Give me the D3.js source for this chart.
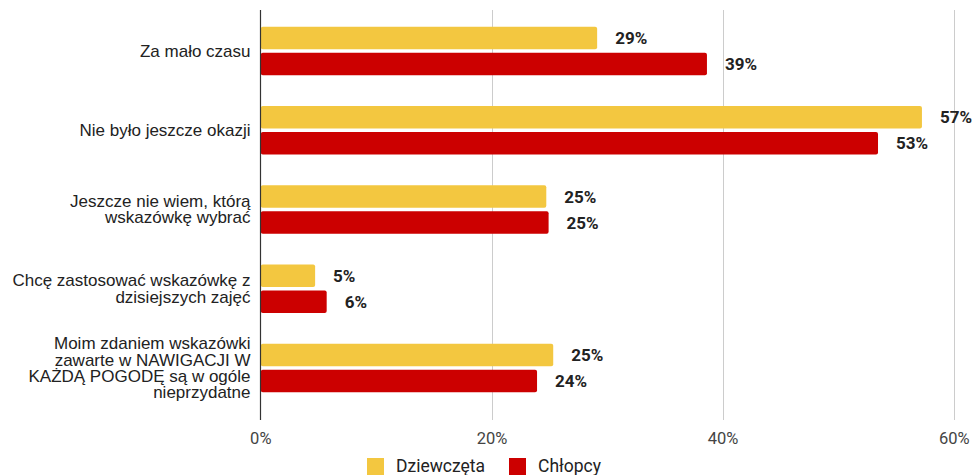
<!DOCTYPE html>
<html>
<head>
<meta charset="utf-8">
<script src="https://cdn.jsdelivr.net/npm/d3@7"></script>
<style>
  html, body { margin: 0; padding: 0; background: #fff; }
  svg { display: block; }
</style>
</head>
<body>
<svg id="chart" width="975" height="475"></svg>
<script>
const categories = [
  "Za mało czasu",
  "Nie było jeszcze okazji",
  "Jeszcze nie wiem, którą wskazówkę wybrać",
  "Chcę zastosować wskazówkę z dzisiejszych zajęć",
  "Moim zdaniem wskazówki zawarte w NAWIGACJI W KAŻDĄ POGODĘ są w ogóle nieprzydatne"
];
const categoryLines = [
  ["Za mało czasu"],
  ["Nie było jeszcze okazji"],
  ["Jeszcze nie wiem, którą", "wskazówkę wybrać"],
  ["Chcę zastosować wskazówkę z", "dzisiejszych zajęć"],
  ["Moim zdaniem wskazówki", "zawarte w NAWIGACJI W", "KAŻDĄ POGODĘ są w ogóle", "nieprzydatne"]
];
const seriesNames = ["Dziewczęta", "Chłopcy"];
const dziewczeta = [29.1, 57.2, 24.7, 4.7, 25.3];
const chlopcy = [38.6, 53.4, 24.9, 5.7, 23.9];
const tickValues = [0, 20, 40, 60];
const colors = ["#F3C740", "#CC0000"];

const svg = d3.select("#chart");
const x = d3.scaleLinear().domain([0, 60]).range([260.8, 954.3]);
const y = d3.scaleBand().domain(categories).range([11.4, 407.6])
  .paddingInner(0.387).paddingOuter(0.1935);
const yi = d3.scaleBand().domain(seriesNames).range([0, y.bandwidth()]).paddingInner(0.13);

// gridlines
svg.append("g").selectAll("line").data(tickValues.filter(t => t > 0)).join("line")
  .attr("x1", d => Math.round(x(d)) + 0.5).attr("x2", d => Math.round(x(d)) + 0.5)
  .attr("y1", 10).attr("y2", 420)
  .attr("stroke", "#cccccc").attr("stroke-width", 1);

// tick labels
svg.append("g").selectAll("text").data(tickValues).join("text")
  .attr("x", d => x(d)).attr("y", 438)
  .attr("dy", "0.36em")
  .attr("text-anchor", "middle")
  .attr("font-family", "Roboto, Arial, sans-serif").attr("font-size", 16.5)
  .attr("fill", "#444")
  .text(d => d + "%");

const rows = categories.map((c, i) => ({ c, i, vals: [dziewczeta[i], chlopcy[i]] }));
const flat = [];
rows.forEach(r => r.vals.forEach((v, k) => flat.push({ c: r.c, s: seriesNames[k], k, v })));

// bars
svg.append("g").selectAll("rect").data(flat).join("rect")
  .attr("x", x(0))
  .attr("y", d => y(d.c) + yi(d.s))
  .attr("width", d => x(d.v) - x(0))
  .attr("height", yi.bandwidth())
  .attr("rx", 2).attr("ry", 2)
  .attr("fill", d => colors[d.k]);

// axis baseline
svg.append("line")
  .attr("x1", 260.5).attr("x2", 260.5).attr("y1", 10).attr("y2", 420)
  .attr("stroke", "#333").attr("stroke-width", 1.2);

// value labels
svg.append("g").selectAll("text").data(flat).join("text")
  .attr("x", d => x(d.v) + 18)
  .attr("y", d => y(d.c) + yi(d.s) + yi.bandwidth() / 2)
  .attr("dy", "0.36em")
  .attr("font-family", "Roboto, Arial, sans-serif").attr("font-size", 17)
  .attr("font-weight", "bold").attr("fill", "#222")
  .text(d => Math.round(d.v) + "%");

// category labels
const lh = 16.3;
const cat = svg.append("g").selectAll("text").data(rows).join("text")
  .attr("text-anchor", "end")
  .attr("font-family", "'Liberation Sans', Arial, sans-serif").attr("font-size", 17)
  .attr("fill", "#222");
cat.each(function(r) {
  const lines = categoryLines[r.i];
  const cy = y(r.c) + y.bandwidth() / 2;
  const first = cy - (lines.length - 1) * lh / 2;
  d3.select(this).selectAll("tspan").data(lines).join("tspan")
    .attr("x", 250.5)
    .attr("y", (d, j) => first + j * lh)
    .attr("dy", "0.34em")
    .text(d => d);
});

// legend
const legend = svg.append("g");
const legX = [367, 509];
seriesNames.forEach((s, k) => {
  legend.append("rect").attr("x", legX[k]).attr("y", 458).attr("width", 17).attr("height", 17)
    .attr("fill", colors[k]);
  legend.append("text").attr("x", legX[k] + 29).attr("y", 466).attr("dy", "0.36em")
    .attr("font-family", "Roboto, Arial, sans-serif").attr("font-size", 17.5)
    .attr("fill", "#222").text(s);
});
</script>
</body>
</html>
